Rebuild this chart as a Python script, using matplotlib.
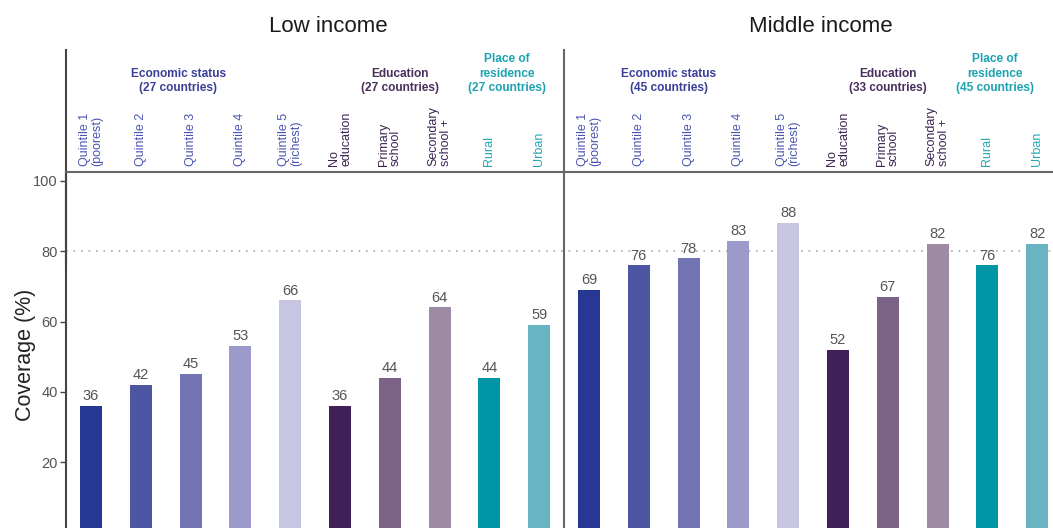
import numpy as np
import matplotlib.pyplot as plt
from matplotlib import transforms

plt.rcParams['font.family'] = ['Liberation Sans', 'DejaVu Sans']
narrow = ['Liberation Sans Narrow', 'Liberation Sans', 'DejaVu Sans']

# data
groups = ['Low income', 'Middle income']
categories = ['Quintile 1\n(poorest)', 'Quintile 2', 'Quintile 3', 'Quintile 4',
              'Quintile 5\n(richest)', 'No\neducation', 'Primary\nschool',
              'Secondary\nschool +', 'Rural', 'Urban']
low_values = [36, 42, 45, 53, 66, 36, 44, 64, 44, 59]
middle_values = [69, 76, 78, 83, 88, 52, 67, 82, 76, 82]
low_headers = ['Economic status\n(27 countries)', 'Education\n(27 countries)',
               'Place of\nresidence\n(27 countries)']
middle_headers = ['Economic status\n(45 countries)', 'Education\n(33 countries)',
                  'Place of\nresidence\n(45 countries)']

bar_colors = ['#263893', '#4c56a3', '#7173b3', '#9b9aca', '#c6c6e2',
              '#412057', '#7a6386', '#9c8ba3', '#0096a6', '#69b4c3']
label_colors = ['#4a55b0'] * 5 + ['#3b2450'] * 3 + ['#22a7b3'] * 2
header_colors = ['#3a3f98', '#4a2d5c', '#1ca3b0']

fig = plt.figure(figsize=(10.53, 5.28), dpi=100)
W, H = 1053, 528
ax = fig.add_axes([66 / W, (528 - 532.3) / H, 987 / W, 360.3 / H])

n = len(categories)
x_low = np.arange(n)
x_mid = np.arange(n) + n
ax.bar(x_low, low_values, width=0.44, color=bar_colors, zorder=2)
ax.bar(x_mid, middle_values, width=0.44, color=bar_colors, zorder=2)

for xs, vals in [(x_low, low_values), (x_mid, middle_values)]:
    for xi, v in zip(xs, vals):
        ax.annotate(str(v), (xi, v), xytext=(0, 2), textcoords='offset points',
                    ha='center', va='bottom', fontsize=10.5, color='#555555', zorder=3)

ax.set_xlim(-0.502, 19.317)
ax.set_ylim(0, 102.56)
ax.set_yticks([20, 40, 60, 80, 100])
ax.set_xticks([])
ax.tick_params(axis='y', length=4, width=1, color='#444444', labelsize=10.5,
               labelcolor='#555555', pad=2)
for s in ['right', 'bottom']:
    ax.spines[s].set_visible(False)
ax.spines['left'].set_color('#444444')
ax.spines['left'].set_linewidth(1.5)
ax.spines['top'].set_color('#666666')
ax.spines['top'].set_linewidth(1.5)

ax.axhline(80, color='#aaaaaa', lw=1.2, ls=(0, (1, 3.5)), zorder=1)

# lines in the header area
trans = transforms.blended_transform_factory(ax.transData, fig.transFigure)
ax.plot([-0.502, -0.502], [1 - 50 / H, 0.5], color='#444444', lw=1.5,
        transform=trans, clip_on=False)
ax.plot([9.5, 9.5], [1 - 50 / H, 0], color='#666666', lw=1.5,
        transform=trans, clip_on=False)

# titles
ax.text(4.76, 1 - 27 / H, groups[0], transform=trans, ha='center', va='center',
        fontsize=16, color='#1a1a1a')
ax.text(14.66, 1 - 27 / H, groups[1], transform=trans, ha='center', va='center',
        fontsize=16, color='#1a1a1a')

# group headers
low_hx = [1.75, 6.2, 8.35]
mid_hx = [11.6, 16.0, 18.15]
for hx, texts in [(low_hx, low_headers), (mid_hx, middle_headers)]:
    for xh, t, c in zip(hx, texts, header_colors):
        ax.text(xh, 1 - 94 / H, t, transform=trans, ha='center', va='bottom',
                fontsize=8.6, fontweight='bold', color=c, family=narrow,
                linespacing=1.25)

# category labels
for xs in [x_low, x_mid]:
    for xi, lab, c in zip(xs, categories, label_colors):
        ax.text(xi, 1 - 166 / H, lab, transform=trans, rotation=90, ha='center',
                va='bottom', multialignment='left', fontsize=9, color=c,
                family=narrow, linespacing=1.0)

fig.text(25 / W, 1 - 355 / H, 'Coverage (%)', rotation=90, ha='center', va='center',
         fontsize=15.5, color='#222222')

fig.savefig('out.png', dpi=100)
